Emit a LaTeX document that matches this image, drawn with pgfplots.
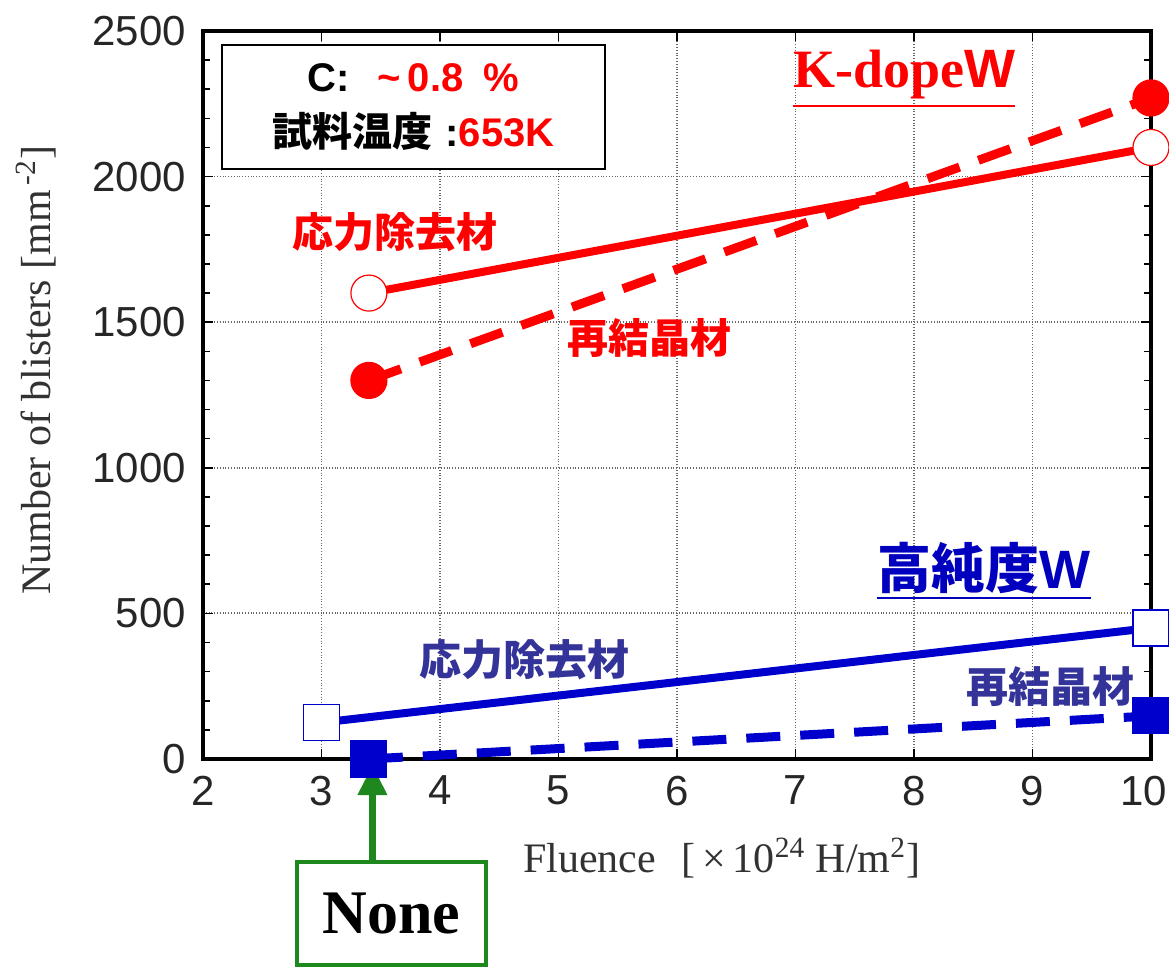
\documentclass[border=0pt]{standalone}
\usepackage{pgfplots}
\pgfplotsset{compat=1.18}
\usepackage{fontspec}
\setmainfont{Liberation Serif}
\setsansfont{Liberation Sans}
\newfontfamily\cjk{Noto Sans CJK JP}
\usetikzlibrary{arrows.meta}
\definecolor{redc}{RGB}{255,0,0}
\definecolor{bluel}{RGB}{0,0,204}
\definecolor{bluet}{RGB}{51,51,153}
\definecolor{blueh}{RGB}{0,0,190}
\definecolor{greenc}{RGB}{30,135,30}
\definecolor{labgray}{RGB}{50,50,50}
\begin{document}
\begin{tikzpicture}
\begin{axis}[
  name=ax,
  scale only axis,
  width=474pt, height=364pt,
  xmin=2, xmax=10, ymin=0, ymax=2500,
  xtick={2,3,...,10}, ytick={0,500,...,2500},
  xticklabels={2,3,4,5,6,7,8,9,{\kern-3.5pt 10\kern3.5pt}},
  minor y tick num=4,
  tick align=inside,
  major tick length=5pt, minor tick length=3.5pt,
  every tick/.style={black, line width=0.8pt},
  axis line style={line width=1.6pt},
  grid=major,
  major grid style={densely dotted, black!60, line width=0.9pt},
  clip=false,
  /pgf/number format/1000 sep={},
  /pgf/number format/assume math mode=true,
  ticklabel style={font=\sffamily\fontsize{21}{21}\selectfont, text=black!85},
  yticklabel style={xshift=-5pt},
  xticklabel style={yshift=-5pt},
  xlabel={Fluence\hspace{0.6em}[\,×\,10\textsuperscript{24} H/m\textsuperscript{2}]},
  xlabel style={at={(axis description cs:0.547,-0.136)}, anchor=center, font=\fontsize{21}{21}\selectfont, text=labgray},
  ylabel={Number of blisters [mm\textsuperscript{\,-2}]},
  ylabel style={at={(axis description cs:-0.176,0.534)}, anchor=center, rotate=0, font=\fontsize{21}{21}\selectfont, text=labgray},
]
% K-dope W, stress relieved (solid, open circles)
\addplot[redc, line width=4pt, mark=*, mark size=9pt, mark options={solid, fill=white, draw=redc, line width=0.6pt}]
  coordinates {(3.4,1600) (10,2100)};
% K-dope W, recrystallized (dashed, filled circles)
\addplot[redc, line width=4.5pt, dash pattern=on 17pt off 10pt, mark=*, mark size=9pt, mark options={solid, fill=redc, draw=redc, line width=0.6pt}]
  coordinates {(3.4,1300) (10,2270)};
% pure W, stress relieved (solid, open squares)
\addplot[bluel, line width=4pt, mark=square*, mark size=9pt, mark options={solid, fill=white, draw=bluel, line width=0.6pt}]
  coordinates {(3.0,125) (10,450)};
% pure W, recrystallized (dashed, filled squares)
\addplot[bluel, line width=4.5pt, dash pattern=on 17pt off 10pt, mark=square*, mark size=9pt, mark options={solid, fill=bluel, draw=bluel, line width=0.6pt}]
  coordinates {(3.4,0) (10,148)};

% info box
\node[draw=black, line width=1pt, fill=white, minimum width=191.5pt, minimum height=62pt, inner sep=0pt, align=center,
  font=\sffamily\bfseries\fontsize{20}{27.5}\selectfont] at (axis cs:3.776,2239)
  {C:\hspace{0.7em}\textcolor{redc}{\textasciitilde\,0.8\hspace{0.5em}\%}\\{\cjk\bfseries 試料温度\,\,}:\textcolor{redc}{653K}};

% K-dope W title
\node[text=redc, font=\bfseries\fontsize{27}{27}\selectfont, inner sep=0pt] (kd) at (axis cs:7.916,2350)
  {K-dope{\sffamily W}};
\draw[redc, line width=1pt] ([yshift=-3pt]kd.south west) -- ([yshift=-3pt]kd.south east);

\node[text=redc, font=\cjk\bfseries\fontsize{20.5}{20.5}\selectfont] at (axis cs:3.62,1810) {応力除去材};
\node[text=redc, font=\cjk\bfseries\fontsize{20.5}{20.5}\selectfont] at (axis cs:5.77,1446) {再結晶材};

% pure W title
\node[text=blueh, font=\cjk\bfseries\fontsize{27}{27}\selectfont, inner sep=0pt] (hp) at (axis cs:8.59,655)
  {高純度{\sffamily W}};
\draw[blueh, line width=1pt] ([yshift=-2pt]hp.south west) -- ([yshift=-2pt]hp.south east);

\node[text=bluet, font=\cjk\bfseries\fontsize{21}{21}\selectfont] at (axis cs:4.717,340) {応力除去材};
\node[text=bluet, font=\cjk\bfseries\fontsize{21}{21}\selectfont] at (axis cs:9.156,247) {再結晶材};

% None annotation
\node[draw=greenc, line width=2pt, fill=white, minimum width=94.5pt, minimum height=51.5pt, inner sep=0pt,
  font=\bfseries\fontsize{31}{31}\selectfont] at (axis cs:3.59,-529) {None};
\draw[greenc, line width=3.5pt, -{Triangle[length=15pt, width=14pt]}] (axis cs:3.43,-354) -- (axis cs:3.43,-21);
\end{axis}
\pgfresetboundingbox
\path ([shift={(-101.5pt,-104pt)}]ax.south west) rectangle ([shift={(9pt,15.5pt)}]ax.north east);
\end{tikzpicture}
\end{document}
